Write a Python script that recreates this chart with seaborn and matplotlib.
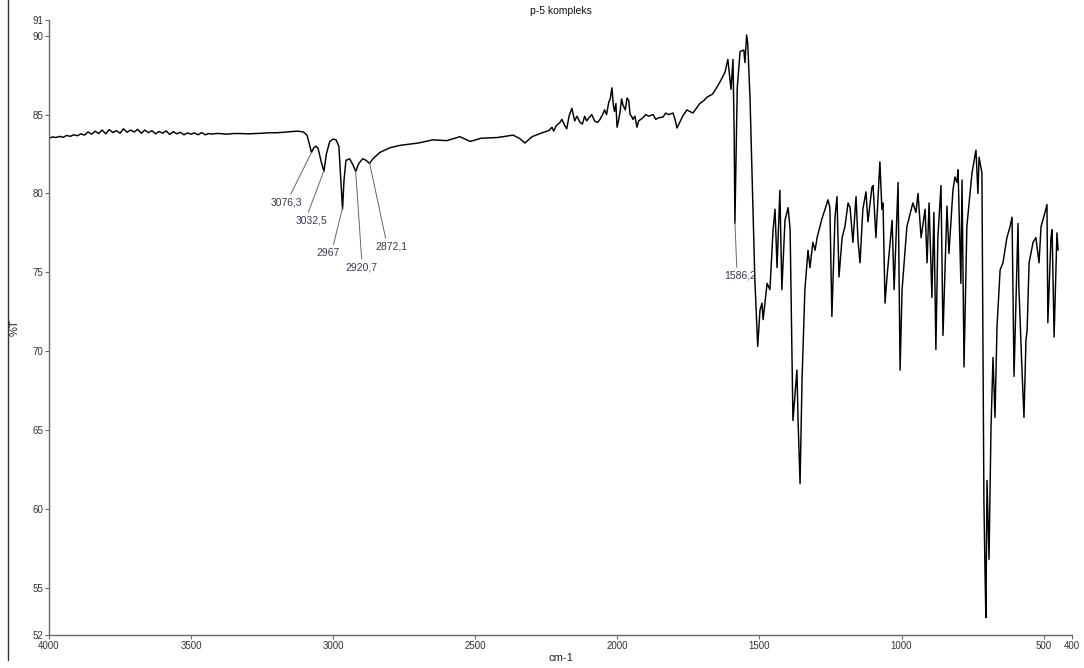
import matplotlib
matplotlib.use("Agg")
import matplotlib.pyplot as plt
from matplotlib.lines import Line2D
import pandas as pd
import seaborn as sns

# ---- IR spectrum (wavenumber cm-1, %T), read in segments ----
baseline = [
    (4000, 83.5), (3988, 83.58), (3975, 83.55), (3963, 83.62), (3950, 83.56),
    (3938, 83.68), (3925, 83.62), (3913, 83.72), (3900, 83.66), (3888, 83.78),
    (3875, 83.7), (3863, 83.9), (3850, 83.76), (3838, 83.95), (3825, 83.8),
    (3813, 84.02), (3800, 83.78), (3788, 84.05), (3775, 83.86), (3763, 83.98),
    (3750, 83.82), (3738, 84.1), (3725, 83.88), (3713, 84.02), (3700, 83.9),
    (3688, 84.06), (3675, 83.82), (3663, 84.02), (3650, 83.86), (3638, 83.98),
    (3625, 83.78), (3613, 83.93), (3600, 83.82), (3588, 83.97), (3575, 83.74),
    (3563, 83.92), (3550, 83.78), (3538, 83.88), (3525, 83.72), (3513, 83.84),
    (3500, 83.76), (3488, 83.84), (3475, 83.72), (3463, 83.86), (3450, 83.72),
    (3438, 83.8), (3425, 83.76), (3413, 83.8), (3400, 83.8), (3375, 83.76),
    (3350, 83.8), (3325, 83.8), (3300, 83.78), (3275, 83.8), (3250, 83.82),
    (3225, 83.85), (3200, 83.85), (3175, 83.88), (3150, 83.92), (3125, 83.95),
    (3105, 83.9),
]

ch_stretch = [
    (3092, 83.7), (3082, 83.0), (3076.3, 82.6), (3068, 82.9), (3060, 83.0),
    (3053, 82.85), (3042, 82.0), (3032.5, 81.4), (3024, 82.5), (3012, 83.3),
    (3000, 83.45), (2990, 83.4), (2980, 83.0), (2972, 80.6), (2967, 79.0),
    (2962, 80.8), (2955, 82.1), (2942, 82.2), (2930, 81.8), (2920.7, 81.4),
    (2910, 81.9), (2896, 82.2), (2884, 82.1), (2872.1, 81.9), (2860, 82.2),
    (2836, 82.6), (2800, 82.9), (2765, 83.05),
]

mid_range = [
    (2700, 83.2), (2649, 83.4), (2600, 83.35), (2554, 83.6), (2518, 83.3),
    (2480, 83.5), (2420, 83.55), (2367, 83.7), (2345, 83.5), (2325, 83.2),
    (2300, 83.6), (2272, 83.8), (2240, 84.0), (2230, 84.2), (2224, 83.95),
    (2215, 84.3), (2202, 84.5), (2195, 84.7), (2185, 84.3), (2178, 84.1),
    (2170, 84.9), (2160, 85.4), (2150, 84.6), (2142, 84.9), (2131, 84.5),
    (2123, 84.4), (2115, 84.9), (2108, 84.6), (2100, 84.8), (2090, 85.0),
    (2080, 84.6), (2070, 84.5), (2061, 84.7), (2052, 85.0), (2045, 85.3),
    (2038, 85.0), (2030, 85.8), (2025, 86.0), (2019, 86.7), (2014, 85.6),
    (2010, 85.2), (2005, 85.7), (2001, 84.2), (1996, 84.6), (1991, 85.1),
    (1985, 86.0), (1980, 85.6), (1972, 85.3), (1966, 86.05), (1960, 85.9),
    (1955, 85.0), (1950, 84.9), (1945, 84.7), (1938, 84.9), (1931, 84.2),
    (1925, 84.6), (1910, 84.8), (1900, 85.0), (1890, 84.9), (1874, 85.0),
    (1865, 84.7), (1855, 84.8), (1839, 84.85), (1830, 85.1), (1820, 85.0),
    (1804, 85.1), (1797, 84.7), (1790, 84.15), (1770, 84.9), (1755, 85.3),
    (1745, 85.2), (1734, 85.1), (1710, 85.7), (1695, 85.9), (1685, 86.1),
    (1665, 86.3), (1649, 86.75), (1635, 87.2), (1621, 87.7), (1611, 88.5),
    (1600, 86.6),
]

fingerprint = [
    (1593, 88.5), (1589, 84.0), (1586.2, 78.1), (1582, 82.5), (1578, 86.7),
    (1568, 89.0), (1555, 89.1), (1551, 88.3), (1545, 90.05), (1541, 89.5),
    (1533, 86.0), (1524, 80.0), (1516, 74.5), (1512, 72.8), (1506, 70.3),
    (1498, 72.6), (1491, 73.05), (1487, 72.0), (1473, 74.3), (1463, 73.9),
    (1452, 77.7), (1445, 79.0), (1438, 75.3), (1428, 80.2), (1421, 73.9),
    (1410, 78.3), (1399, 79.1), (1392, 77.7), (1382, 65.6), (1368, 68.8),
    (1364, 65.6), (1357, 61.6), (1350, 68.2), (1340, 73.9), (1329, 76.4),
    (1322, 75.3), (1312, 76.9), (1304, 76.4), (1297, 77.2), (1287, 77.9),
    (1280, 78.4), (1269, 79.0), (1259, 79.6), (1252, 79.1), (1245, 72.2),
    (1234, 78.5), (1227, 79.8), (1220, 74.7), (1209, 77.2), (1199, 77.9),
    (1188, 79.4), (1181, 79.1), (1171, 76.9), (1160, 79.8), (1153, 77.0),
    (1146, 75.6), (1136, 79.0), (1125, 80.1), (1118, 78.2), (1104, 80.4),
    (1100, 80.5), (1090, 77.2), (1076, 82.0), (1069, 79.0), (1065, 79.4),
    (1058, 73.05), (1051, 74.7), (1033, 78.3), (1026, 73.9), (1012, 80.7),
    (1005, 68.8), (998, 73.9), (981, 77.9), (960, 79.4), (949, 78.8),
    (942, 80.0), (931, 77.2), (917, 79.0), (910, 75.6), (903, 79.4),
    (893, 73.4), (886, 78.8), (879, 70.1), (872, 77.2), (861, 80.5),
    (854, 71.0), (840, 79.2), (833, 76.2), (819, 80.2), (812, 81.05),
    (805, 80.7), (801, 81.5), (791, 74.3), (787, 80.85), (780, 69.0),
    (770, 77.9), (752, 81.3), (738, 82.75), (731, 80.0), (727, 82.3),
    (717, 81.3), (713, 69.4), (710, 60.5), (706, 55.9), (703, 53.1),
    (699, 61.8), (692, 56.8), (685, 65.2), (678, 69.6), (671, 65.8),
    (664, 71.5), (653, 75.15), (643, 75.6), (629, 77.2), (618, 77.9),
    (611, 78.5), (604, 68.4), (590, 78.1), (587, 74.1), (576, 68.8),
    (569, 65.8), (562, 70.7), (558, 71.3), (551, 75.6), (537, 76.9),
    (527, 77.2), (516, 75.6), (509, 77.9), (495, 78.8), (488, 79.3),
    (485, 71.8), (474, 77.2), (470, 77.7), (463, 70.9), (453, 77.5),
    (449, 76.4),
]

# Peak labels: text, peak position, label anchor (wavenumber, %T)
peak_labels = ["3076,3", "3032,5", "2967", "2920,7", "2872,1", "1586,2"]
peak_wn = [3076.3, 3032.5, 2967.0, 2920.7, 2872.1, 1586.2]
peak_t = [82.6, 81.45, 79.1, 81.4, 81.95, 78.2]
label_wn = [3166, 3075, 3018, 2899, 2796, 1568]
label_t = [79.75, 78.6, 76.55, 75.65, 76.95, 75.1]
leader_rel = [0.6, 0.35, 0.7, 0.5, 0.35, 0.4]

x_ticks = [4000, 3500, 3000, 2500, 2000, 1500, 1000, 500, 400]
y_ticks = [52, 55, 60, 65, 70, 75, 80, 85, 90, 91]

spectrum = pd.DataFrame(baseline + ch_stretch + mid_range + fingerprint,
                        columns=["wavenumber", "T"])

sns.set_style("white")
plt.rcParams["font.family"] = ["Liberation Sans", "DejaVu Sans"]

fig = plt.figure(figsize=(10.84, 6.68), dpi=100)
ax = fig.add_axes([49 / 1084, 33 / 668, 1023 / 1084, 615 / 668])

sns.lineplot(data=spectrum, x="wavenumber", y="T", ax=ax, color="black",
             linewidth=1.05, estimator=None, sort=False)

ax.set_xlim(4000, 400)
ax.set_ylim(52, 91)
ax.set_xticks(x_ticks)
ax.set_yticks(y_ticks)
ax.set_xticklabels([str(v) for v in x_ticks])
ax.set_yticklabels([str(v) for v in y_ticks])

for side in ("top", "right"):
    ax.spines[side].set_visible(False)
for side in ("left", "bottom"):
    ax.spines[side].set_color("#6a6a6a")
    ax.spines[side].set_linewidth(1.0)
ax.tick_params(axis="both", which="major", direction="out", length=3,
               width=0.8, color="#6a6a6a", labelsize=7, labelcolor="#333333",
               pad=1)
ax.tick_params(axis="x", bottom=True)
ax.tick_params(axis="y", left=True)

ax.set_xlabel("cm-1", fontsize=8, color="#222222", labelpad=2)
ax.set_ylabel("%T", fontsize=8, color="#222222")
ax.yaxis.set_label_coords(-29 / 1023, 0.5)
ax.set_title("p-5 kompleks", fontsize=7.5, color="#111111", pad=4)

for text, pw, pt, lw_, lt, rel in zip(peak_labels, peak_wn, peak_t,
                                       label_wn, label_t, leader_rel):
    ax.annotate(text, xy=(pw, pt), xytext=(lw_, lt), ha="center", va="top",
                fontsize=7.5, color="#3a3a4a",
                arrowprops=dict(arrowstyle="-", color="#666666", lw=0.7,
                                shrinkA=0, shrinkB=0, relpos=(rel, 1.0)))

# thin frame edge on the left of the window
fig.add_artist(Line2D([7.5 / 1084, 7.5 / 1084], [8 / 668, 1.0],
                      color="#333333", lw=1.0))

fig.savefig("out.png", dpi=100, facecolor="white")
